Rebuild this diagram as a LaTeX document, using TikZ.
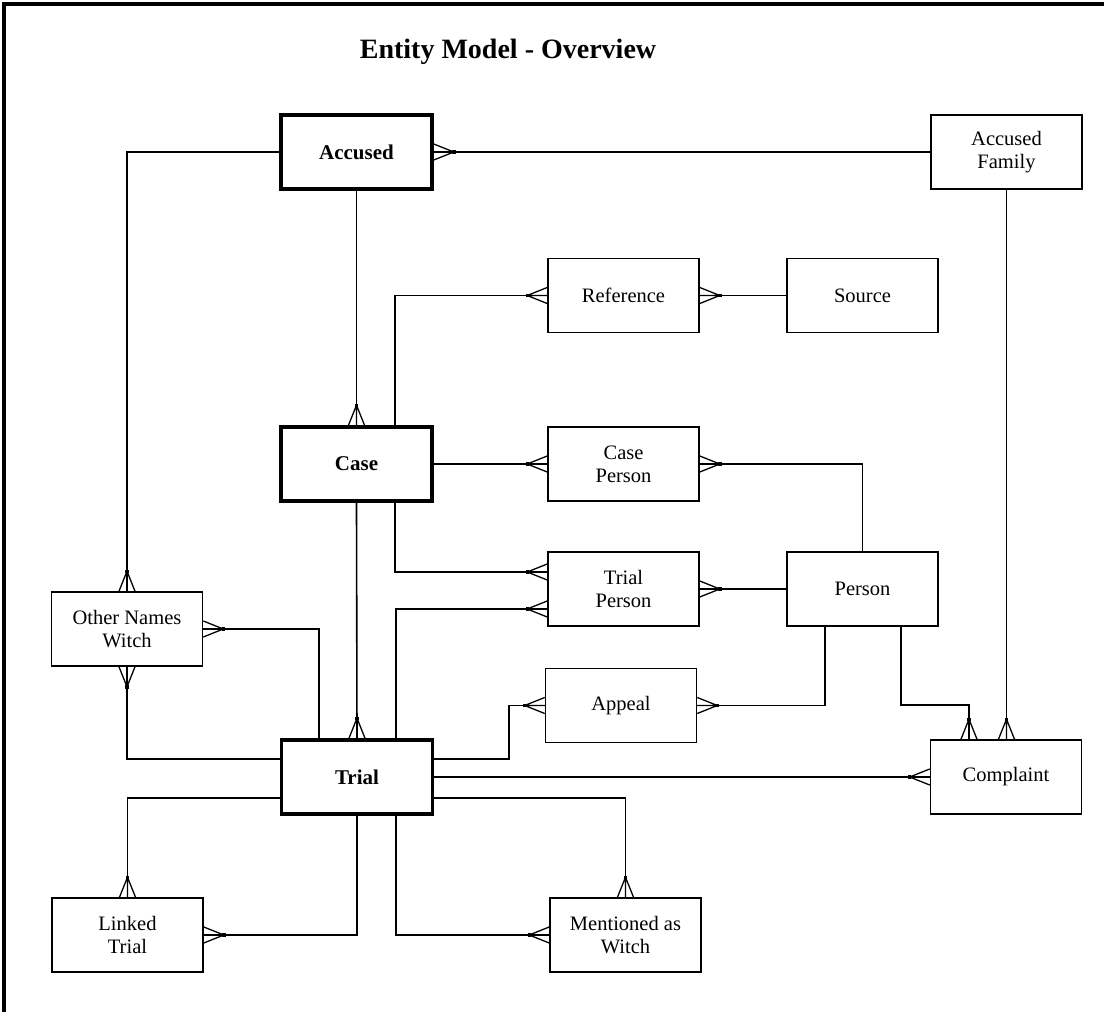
\documentclass[tikz,border=0pt]{standalone}
\usepackage{fontspec}
\setmainfont{Liberation Serif}
\usetikzlibrary{calc}
\tikzset{
  ent/.style={draw, line width=1.6pt, minimum width=151pt, minimum height=74pt, inner sep=0pt, align=center, font=\fontsize{20.5}{23}\selectfont},
  strong/.style={ent, line width=3.6pt, font=\fontsize{21}{23}\bfseries\selectfont},
  conn/.style={line width=1.6pt},
  pics/crow/.style={code={
    \fill (-21.7,-1.8) rectangle (-18.3,1.8);
    \draw[line width=1.3pt] (-20,0) -- (0,0) (-20,0) -- (0,8) (-20,0) -- (0,-8);
  }}
}
\begin{document}
\begin{tikzpicture}[x=1pt,y=-1pt]
\useasboundingbox (0,0) rectangle (1104,1012);
\fill[white] (0,0) rectangle (1104,1012);
\draw[line width=4.5pt] (4,1012) -- (4,4) -- (1104,4);

\node[font=\fontsize{28}{30}\bfseries\selectfont] (title) at (508,52) {Entity Model - Overview};

\node[strong] (accused) at (356.5,152) {Accused};
\node[ent] (accfam) at (1006.5,152) {Accused\\Family};
\node[ent] (reference) at (623.5,295.5) {Reference};
\node[ent] (source) at (862.5,295.5) {Source};
\node[strong] (case) at (356.5,464) {Case};
\node[ent] (caseperson) at (623.5,464) {Case\\Person};
\node[ent] (trialperson) at (623.5,589) {Trial\\Person};
\node[ent] (person) at (862.5,589) {Person};
\node[ent] (onw) at (127,629) {Other Names\\Witch};
\node[ent] (appeal) at (621,705.5) {Appeal};
\node[strong] (trial) at (357,777) {Trial};
\node[ent] (complaint) at (1006,777) {Complaint};
\node[ent] (linked) at (127.5,935) {Linked\\Trial};
\node[ent] (mentioned) at (625.5,935) {Mentioned as\\Witch};

% Accused
\draw[conn] (accfam.west) -- (accused.east);
\pic[rotate=180] at (accused.east) {crow};
\draw[conn] (accused.south) -- (case.north);
\pic[rotate=-90] at (case.north) {crow};
\draw[conn] (accused.west) -| (onw.north);
\pic[rotate=-90] at (onw.north) {crow};

% Case
\draw[conn] ($(case.north)+(38.5,0)$) |- (reference.west);
\pic at (reference.west) {crow};
\draw[conn] (source.west) -- (reference.east);
\pic[rotate=180] at (reference.east) {crow};
\draw[conn] (case.east) -- (caseperson.west);
\pic at (caseperson.west) {crow};
\draw[conn] ($(case.south)+(38.5,0)$) |- ($(trialperson.west)+(0,-17)$);
\pic at ($(trialperson.west)+(0,-17)$) {crow};
\draw[conn] (case.south) -- (trial.north);
\pic[rotate=-90] at (trial.north) {crow};

% Person
\draw[conn] (person.north) |- (caseperson.east);
\pic[rotate=180] at (caseperson.east) {crow};
\draw[conn] (person.west) -- (trialperson.east);
\pic[rotate=180] at (trialperson.east) {crow};
\draw[conn] ($(person.south)+(-37.5,0)$) |- (appeal.east);
\pic[rotate=180] at (appeal.east) {crow};
\draw[conn] ($(person.south)+(38.5,0)$) -- ++(0,78) -| ($(complaint.north)+(-37,0)$);
\pic[rotate=-90] at ($(complaint.north)+(-37,0)$) {crow};
\draw[conn] (accfam.south) -- (accfam.south |- complaint.north);
\pic[rotate=-90] at (accfam.south |- complaint.north) {crow};

% Trial
\draw[conn] ($(trial.north)+(39,0)$) |- ($(trialperson.west)+(0,20)$);
\pic at ($(trialperson.west)+(0,20)$) {crow};
\draw[conn] ($(trial.north)+(-38,0)$) |- (onw.east);
\pic[rotate=180] at (onw.east) {crow};
\draw[conn] ($(trial.west)+(0,-18)$) -| (onw.south);
\pic[rotate=90] at (onw.south) {crow};
\coordinate (apx) at (509,0);
\draw[conn] ($(trial.east)+(0,-18)$) -| (apx |- appeal.west) -- (appeal.west);
\pic at (appeal.west) {crow};
\draw[conn] (trial.east) -- (complaint.west);
\pic at (complaint.west) {crow};
\draw[conn] ($(trial.east)+(0,21)$) -| (mentioned.north);
\pic[rotate=-90] at (mentioned.north) {crow};
\draw[conn] ($(trial.south)+(39,0)$) |- (mentioned.west);
\pic at (mentioned.west) {crow};
\draw[conn] ($(trial.west)+(0,21)$) -| (linked.north);
\pic[rotate=-90] at (linked.north) {crow};
\draw[conn] (trial.south) |- (linked.east);
\pic[rotate=180] at (linked.east) {crow};
\end{tikzpicture}
\end{document}
